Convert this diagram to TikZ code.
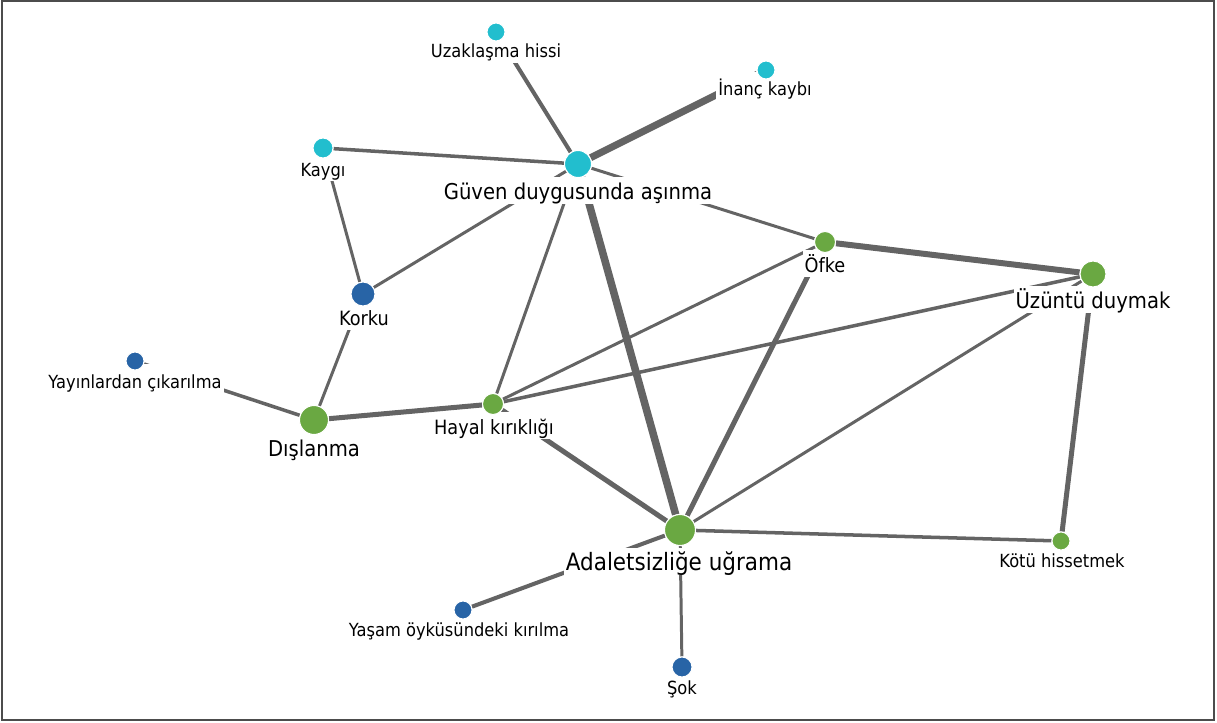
\documentclass[tikz,border=0pt]{standalone}
\usepackage{fontspec}
\setmainfont{DejaVu Sans}[FakeStretch=0.9]
\usepackage{tikz}
\usetikzlibrary{positioning}
\definecolor{linkgray}{RGB}{100,100,100}
\definecolor{trustcyan}{RGB}{34,190,206}
\definecolor{fearblue}{RGB}{40,100,166}
\definecolor{hurtgreen}{RGB}{106,168,66}
\pgfdeclarelayer{edges}
\pgfsetlayers{edges,main}

\begin{document}
\begin{tikzpicture}[
    x=0.02cm, y=-0.02cm,
    dot/.style={circle, draw=white, line width=0.6pt, inner sep=0pt, minimum size=#1},
    cyandot/.style={dot=#1, fill=trustcyan},
    bluedot/.style={dot=#1, fill=fearblue},
    greendot/.style={dot=#1, fill=hurtgreen},
    lbl/.style={fill=white, inner xsep=1.2pt, inner ysep=0pt, text height=1.28em, text depth=0.28em, anchor=base},
    lblS/.style={lbl, text height=1.36em, font=\fontsize{10.3pt}{12pt}\selectfont},
    lblM/.style={lbl, font=\fontsize{11.2pt}{13pt}\selectfont},
    lblL/.style={lbl, font=\fontsize{12.4pt}{14pt}\selectfont},
    lblXL/.style={lbl, font=\fontsize{13.6pt}{16pt}\selectfont},
    link/.style={draw=linkgray, line width=#1},
    link/.default=1.7pt
]
    \useasboundingbox (0,0) rectangle (1217,723);
    \draw[gray!60!black, line width=0.8pt] (2,1) rectangle (1214,720);

    % labels
    \node[lblS] (uzak-l) at (496,58) {Uzaklaşma hissi};
    \node[lblS] (inanc-l) at (765,96) {İnanç kaybı};
    \node[lblS] (kaygi-l) at (323,176) {Kaygı};
    \node[lblL] (guven-l) at (578,199) {Güven duygusunda aşınma};
    \node[lblM] (korku-l) at (364,325) {Korku};
    \node[lblS] (yayin-l) at (135,388) {Yayınlardan çıkarılma};
    \node[lblS] (yasam-l) at (459,636) {Yaşam öyküsündeki kırılma};
    \node[lblS] (sok-l) at (682,694) {Şok};
    \node[lblM] (ofke-l) at (825,272) {Öfke};
    \node[lblL] (uzuntu-l) at (1093,308) {Üzüntü duymak};
    \node[lblL] (dislanma-l) at (314,456) {Dışlanma};
    \node[lblM] (hayal-l) at (494,434) {Hayal kırıklığı};
    \node[lblXL] (adalet-l) at (679,570) {Adaletsizliğe uğrama};
    \node[lblS] (kotu-l) at (1062,567) {Kötü hissetmek};

    % dots
    \node[cyandot=0.36cm] (uzak) at (496,32) {};
    \node[cyandot=0.36cm] (inanc) at (766,70) {};
    \node[cyandot=0.40cm] (kaygi) at (323,148) {};
    \node[cyandot=0.54cm] (guven) at (578,164) {};
    \node[bluedot=0.48cm] (korku) at (363,294) {};
    \node[bluedot=0.36cm] (yayin) at (135,361) {};
    \node[bluedot=0.36cm] (yasam) at (463,610) {};
    \node[bluedot=0.40cm] (sok) at (682,667) {};
    \node[greendot=0.42cm] (ofke) at (825,242) {};
    \node[greendot=0.52cm] (uzuntu) at (1093,274) {};
    \node[greendot=0.58cm] (dislanma) at (314,420) {};
    \node[greendot=0.42cm] (hayal) at (493,404) {};
    \node[greendot=0.62cm] (adalet) at (680,530) {};
    \node[greendot=0.36cm] (kotu) at (1061,541) {};

    \begin{pgfonlayer}{edges}
    \draw[link=2.3pt] (uzak) -- (guven);
    \draw[link=4.0pt] (inanc) -- (guven);
    \draw[link=2.0pt] (kaygi) -- (guven);
    \draw[link] (kaygi) -- (korku);
    \draw[link] (guven) -- (korku);
    \draw[link] (guven) -- (hayal);
    \draw[link=4.3pt] (guven) -- (adalet);
    \draw[link] (guven) -- (ofke);
    \draw[link=3.4pt] (ofke) -- (uzuntu);
    \draw[link] (ofke) -- (hayal);
    \draw[link=2.85pt] (ofke) -- (adalet);
    \draw[link=2.0pt] (uzuntu) -- (hayal);
    \draw[link] (uzuntu) -- (adalet);
    \draw[link=2.85pt] (uzuntu) -- (kotu);
    \draw[link] (korku) -- (dislanma);
    \draw[link=2.0pt] (yayin) -- (dislanma);
    \draw[link=2.85pt] (dislanma) -- (hayal);
    \draw[link=2.85pt] (hayal) -- (adalet);
    \draw[link=2.0pt] (adalet) -- (kotu);
    \draw[link=2.3pt] (adalet) -- (yasam);
    \draw[link] (adalet) -- (sok);
    \end{pgfonlayer}
\end{tikzpicture}
\end{document}
